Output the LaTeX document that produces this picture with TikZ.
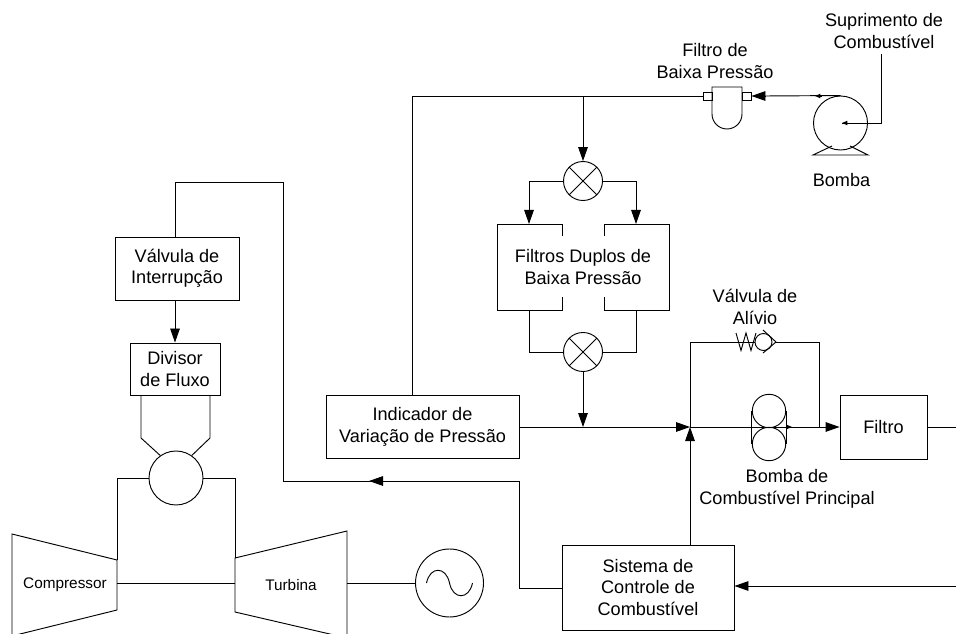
\documentclass[tikz,border=0pt]{standalone}
\usepackage{fontspec}
\setmainfont{Liberation Sans}
\usetikzlibrary{arrows.meta}
\tikzset{
  line/.style={draw=black,line width=0.7pt,line join=miter},
  big/.style={-{Triangle[length=10.5pt,width=7.2pt]}},
  tiny/.style={-{Triangle[length=4pt,width=3.2pt]}},
  box/.style={line,rectangle,inner sep=0pt,align=center,font=\fontsize{13.6}{16.1}\selectfont},
  label/.style={inner sep=0pt,align=center,font=\fontsize{13.6}{16.1}\selectfont},
  small/.style={inner sep=0pt,align=center,font=\fontsize{11.5}{14}\selectfont},
  ring/.style={line,circle,inner sep=0pt,fill=white}
}
\begin{document}
\begin{tikzpicture}[x=0.75pt,y=-0.75pt]
\useasboundingbox (0,0) rectangle (956,634);
\clip (0,0) rectangle (956,634);
% coordinates
\coordinate (edgeR) at (956,427);
\coordinate (edgeC) at (956,586);
\coordinate (topL) at (412,96);
\coordinate (jTop) at (583,96);
\coordinate (jMain) at (690,427);
\coordinate (jMerge) at (583,427);
\coordinate (jBy) at (819,427);
\coordinate (supply) at (881.5,54);
% labels
\node[label] (lsup) at (884,31) {Suprimento de\\Combustível};
\node[label] (lfil) at (715,61) {Filtro de\\Baixa Pressão};
\node[label] (lbom) at (841.5,180) {Bomba};
\node[label] (lval) at (755,307) {Válvula de\\Alívio};
\node[label] (lbcp) at (787,489) {Bomba de\\Combustível Principal};
% boxes
\node[box,minimum width=124*.75pt,minimum height=63*.75pt] (vi) at (177,268.5) {Válvula de\\Interrupção};
\node[box,minimum width=90*.75pt,minimum height=52*.75pt] (div) at (175,369) {Divisor\\de Fluxo};
\node[box,minimum width=193*.75pt,minimum height=63*.75pt] (ind) at (422.5,427) {Indicador de\\Variação de Pressão};
\node[box,minimum width=87*.75pt,minimum height=64*.75pt] (fil) at (883.5,427) {Filtro};
\node[box,minimum width=172*.75pt,minimum height=85*.75pt] (scc) at (648,587.5) {Sistema de\\Controle de\\Combustível};
\node[label] (dup) at (583,267) {Filtros Duplos de\\Baixa Pressão};
% duplex filter brackets
\draw[line] (562,236) |- (497,224) |- (562,310) -- (562,297);
\draw[line] (604,236) |- (669,224) |- (604,310) -- (604,297);
\coordinate (dupLT) at (529,224); \coordinate (dupRT) at (636,224);
\coordinate (dupLB) at (529,310); \coordinate (dupRB) at (636,310);
% valves
\node[ring,minimum size=39*.75pt] (v1) at (583,181) {};
\node[ring,minimum size=39*.75pt] (v2) at (583,352) {};
\foreach \v in {v1,v2}{
  \draw[line] (\v.45) -- (\v.225) (\v.135) -- (\v.315);
}
% low pressure lines
\draw[line] (ind.north -| topL) -- (topL) -- (703,96);
\draw[line,big] (jTop) -- (v1.north);
\draw[line,big] (v1.west) -| (dupLT);
\draw[line,big] (v1.east) -| (dupRT);
\draw[line] (dupLB) |- (v2.west);
\draw[line] (dupRB) |- (v2.east);
\draw[line,big] (v2.south) -- (jMerge);
\draw[line,big] (ind.east) -- (jMain);
% low-pressure filter
\node[line,rectangle,minimum width=9*.75pt,minimum height=8*.75pt,inner sep=0pt] (fl) at (707.5,96) {};
\node[line,rectangle,minimum width=9*.75pt,minimum height=8*.75pt,inner sep=0pt] (fr) at (746.5,96) {};
\draw[line] (712,114) -- (712,87) -- (742,87) -- (742,114) arc[start angle=0,end angle=-180,radius=15*.75pt];
\draw[line,big] (765,96) -- (fr.east);
% pump
\node[ring,minimum size=54*.75pt] (bomba) at (840.5,123) {};
\draw[line] (832,146) -- (813,155) -- (868,155) -- (850,146);
\draw[line] (bomba.north) -- (765,96);
\draw[line,tiny] (822,96) -- (815,96);
\coordinate (bc) at (842,123);
\draw[line] (supply) -- (881.5,123) -- (bc);
\draw[line,tiny] (849,123) -- (bc);
% main line with bypass
\draw[line] (jMain) -- (735,427);
\draw[line] (jMain) -- (690,342) -- (755,342);
\node[ring,minimum size=17*.75pt,fill=none] (rv) at (763.5,342) {};
\draw[line] (736,333) -- (741,350.5) -- (746,333) -- (751,350.5) -- (756,333);
\draw[line] (763,330) -- (776,342) -- (763,353);
\draw[line] (776,342) -- (819,342) -- (jBy);
\node[ring,minimum size=33.4*.75pt,fill=none] (mp1) at (769,411) {};
\node[ring,minimum size=33.4*.75pt,fill=none] (mp2) at (769,444) {};
\draw[line] (mp1.west) -- (mp2.west) (mp1.east) -- (mp2.east);
\draw[line] (735,427) -- (jBy);
\draw[line,tiny] (787,427) -- (792,427);
\draw[line,big] (jBy) -- (fil.west);
\draw[line] (fil.east) -- (edgeR);
% fuel control
\draw[line,big] (scc.north -| jMain) -- (jMain);
\draw[line,big] (edgeC) -- (scc.east |- edgeC);
\coordinate (rtA) at (519,588);
\coordinate (rtB) at (519,481);
\coordinate (rtC) at (283,481);
\coordinate (rtD) at (283,182);
\coordinate (rtE) at (175,182);
\draw[line] (scc.west |- rtA) -- (rtA) -- (rtB) -- (rtC) -- (rtD) -- (rtE) -- (vi.north -| rtE);
\draw[line,big] (390,481) -- (369,481);
\draw[line,big] (vi.south -| rtE) -- (div.north -| rtE);
% combustor
\node[ring,minimum size=54*.75pt] (cc) at (176,478) {};
\draw[line] (div.south -| 141,0) -- (141,438) -- (cc.125);
\draw[line] (div.south -| 210,0) -- (210,438) -- (cc.55);
% compressor and turbine
\draw[line] (12,534) -- (117,560) -- (117,610) -- (12,636) -- cycle;
\node[small] (comp) at (65,585) {Compressor};
\draw[line] (347,531) -- (235,558) -- (235,612) -- (347,638) -- cycle;
\node[small] (turb) at (291,585) {Turbina};
\draw[line] (cc.west) -- (117,478) -- (117,560);
\draw[line] (cc.east) -- (235,478) -- (235,558);
\draw[line] (117,583) -- (235,583);
% generator
\node[ring,minimum size=68*.75pt] (gen) at (449.5,583) {};
\draw[line] (347,583) -- (gen.west);
\draw[line] (426.5,583) .. controls (430,566) and (446,566) .. (449.5,583) .. controls (453,600) and (469,600) .. (472.5,583);
\end{tikzpicture}
\end{document}
